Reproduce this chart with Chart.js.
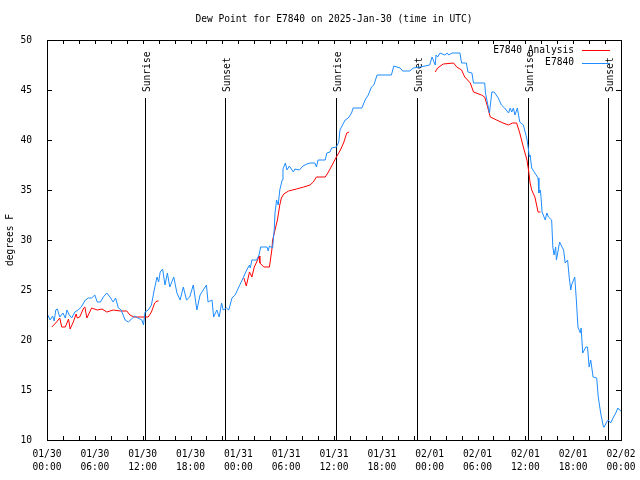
<!DOCTYPE html>
<html>
<head>
<meta charset="utf-8">
<script src="https://cdn.jsdelivr.net/npm/chart.js@4.4.1/dist/chart.umd.min.js"></script>
<style>
  html, body { margin: 0; padding: 0; background: #fff; }
  #wrap { width: 640px; height: 480px; }
</style>
</head>
<body>
<div id="wrap"><canvas id="plot1" width="640" height="480"></canvas></div>
<script>
// hours after 01/30 00:00 UTC
const blueHours = [0.1, 0.4, 0.7, 0.9, 1.1, 1.3, 1.6, 2.0, 2.3, 2.5, 2.8, 3.1, 3.5, 3.9, 4.3, 4.8, 5.2, 5.6, 6.0, 6.3,
  6.7, 7.06, 7.5, 7.9, 8.3, 8.6, 8.95, 9.3, 9.8, 10.2, 10.6, 11.0, 11.4, 11.9, 12.1, 12.3, 12.7, 13.1, 13.4, 13.8,
  14.0, 14.2, 14.5, 14.8, 15.1, 15.4, 15.9, 16.3, 16.7, 17.1, 17.5, 17.9, 18.35, 18.8, 19.2, 19.6, 20.0, 20.2, 20.7, 20.9,
  21.3, 21.6, 21.9, 22.1, 22.5, 22.8, 23.2, 23.6, 24.0, 24.6, 25.05, 25.4, 25.5, 25.7, 26.3, 26.6, 26.8, 27.6, 27.75, 27.9,
  28.3, 28.5, 28.6, 28.8, 29.0, 29.2, 29.5, 29.6, 29.9, 30.1, 30.4, 30.9, 31.1, 31.65, 32.1, 32.6, 33.0, 33.6, 33.8, 34.0,
  34.9, 35.1, 35.5, 35.7, 36.3, 36.6, 36.75, 37.4, 37.8, 38.2, 38.4, 39.5, 39.9, 40.3, 40.7, 41.0, 41.4, 43.2, 43.5, 44.3,
  44.6, 45.5, 45.95, 46.8, 48.0, 48.3, 48.7, 48.8, 49.0, 49.3, 49.9, 50.2, 50.4, 50.8, 51.8, 52.0, 52.6, 52.8, 53.3, 53.5,
  54.9, 55.0, 55.3, 55.5, 55.8, 56.1, 56.6, 57.0, 57.4, 57.9, 58.1, 58.3, 58.5, 58.7, 59.0, 59.3, 59.75, 60.2, 60.4, 60.5,
  60.6, 60.8, 61.2, 61.6, 61.7, 61.9, 62.1, 62.5, 62.7, 62.9, 63.3, 63.45, 63.6, 63.8, 63.9, 64.3, 64.6, 64.8, 65.0, 65.3,
  65.5, 65.7, 65.8, 66.2, 66.4, 66.6, 66.9, 67.0, 67.2, 67.6, 67.8, 68.0, 68.2, 68.5, 68.95, 69.15, 69.45, 69.8, 69.9, 70.2,
  70.4, 70.7, 71.0, 71.35, 71.6, 71.8, 72.0];
const blueDew = [22.5, 22.0, 22.4, 21.9, 23.0, 23.1, 22.3, 22.7, 22.2, 23.0, 22.5, 22.2, 22.8, 23.0, 23.3, 24.0, 24.2, 24.2, 24.5, 23.8,
  23.8, 24.3, 24.7, 24.3, 23.8, 24.2, 23.2, 23.0, 22.0, 21.8, 22.1, 22.4, 22.2, 22.0, 21.5, 22.8, 23.0, 23.5, 24.8, 26.3,
  25.8, 26.8, 27.1, 25.5, 26.7, 25.3, 26.3, 24.7, 24.0, 25.3, 24.0, 24.3, 25.5, 23.0, 24.5, 25.0, 25.5, 23.8, 24.0, 22.3,
  23.0, 22.3, 23.7, 23.0, 23.2, 23.0, 24.2, 24.5, 25.2, 26.2, 27.0, 27.5, 27.2, 28.0, 28.0, 28.5, 29.3, 29.3, 28.9, 29.4,
  29.2, 31.0, 32.7, 34.0, 33.5, 35.0, 36.0, 37.1, 37.7, 37.0, 37.4, 36.8, 37.1, 37.0, 37.4, 37.6, 37.7, 37.7, 37.3, 38.0,
  38.0, 38.7, 38.8, 39.2, 39.3, 39.8, 41.0, 42.0, 42.2, 42.7, 43.2, 43.2, 44.0, 44.5, 45.3, 45.5, 46.5, 46.5, 47.4, 47.2,
  46.9, 46.9, 47.2, 47.3, 47.5, 48.3, 47.5, 48.5, 48.3, 48.7, 48.5, 48.7, 48.5, 48.7, 48.7, 47.7, 47.7, 46.8, 46.7, 45.7,
  45.7, 44.7, 43.5, 42.7, 44.8, 44.8, 44.2, 43.5, 43.2, 42.7, 43.2, 42.8, 43.2, 42.5, 43.2, 41.8, 41.5, 40.1, 39.0, 38.3,
  38.5, 37.2, 36.7, 36.2, 34.7, 35.0, 32.8, 32.0, 32.7, 32.3, 32.0, 29.3, 28.5, 29.3, 28.0, 29.8, 29.3, 29.0, 27.7, 28.0,
  26.3, 25.0, 25.5, 26.3, 24.0, 21.3, 20.7, 21.2, 18.7, 19.3, 19.3, 17.3, 18.0, 16.3, 16.2, 14.3, 12.7, 11.3, 11.3, 11.8,
  12.0, 11.7, 12.2, 12.7, 13.2, 13.0, 12.9];

const redHours = [0.6, 1.2, 1.6, 1.85, 2.3, 2.7, 2.9, 3.3, 3.65, 3.8, 4.1, 4.6, 4.75, 5.0, 5.6, 6.3, 6.9, 7.5, 8.3, 9.2,
  10.0, 10.4, 10.9, 12.3, 12.7, 13.1, 13.5, 13.8, 14.0, 19.0,
  24.7, 25.0, 25.4, 25.7, 26.0, 26.3, 26.6, 26.7, 27.2, 27.9, 28.2, 28.3, 28.6, 28.9, 29.2, 29.4, 29.7, 30.3, 31.3, 32.2,
  33.0, 33.4, 33.8, 34.9, 35.3, 35.9, 36.3, 36.8, 37.2, 37.6, 37.9, 43.0,
  48.7, 49.0, 49.7, 51.0, 51.4, 52.0, 52.4, 53.1, 53.5, 54.5, 54.9, 55.2, 55.6, 56.4, 57.2, 57.9, 58.4, 58.9, 59.3, 59.75,
  60.2, 60.4, 60.6, 60.8, 61.2, 61.6, 61.9];
const redDew = [21.3, 21.8, 22.2, 21.3, 21.3, 22.1, 21.1, 21.8, 22.6, 22.2, 22.3, 23.2, 23.3, 22.2, 23.2, 23.0, 23.1, 22.8, 23.0, 22.9,
  22.9, 22.5, 22.3, 22.3, 22.3, 22.8, 23.7, 23.9, 23.9, null,
  26.2, 25.4, 26.8, 26.3, 27.3, 27.8, 28.4, 27.7, 27.3, 27.3, 29.0, 30.0, 31.0, 32.0, 33.5, 34.2, 34.6, 34.9, 35.1, 35.3,
  35.5, 35.8, 36.3, 36.3, 36.8, 37.7, 38.3, 39.0, 39.7, 40.7, 40.8, null,
  46.8, 47.2, 47.6, 47.7, 47.3, 47.0, 46.3, 45.7, 44.8, 44.5, 44.3, 43.5, 42.3, 42.0, 41.7, 41.5, 41.7, 41.7, 40.7, 39.3,
  38.0, 37.0, 35.7, 35.0, 34.3, 32.8, 32.8];

const sunHours = [12.3, 22.35, 36.25, 46.45, 60.35, 70.4];
const sunNames = ['Sunrise', 'Sunset', 'Sunrise', 'Sunset', 'Sunrise', 'Sunset'];

const tickDays = ['01/30', '01/30', '01/30', '01/30', '01/31', '01/31', '01/31', '01/31', '02/01', '02/01', '02/01', '02/01', '02/02'];
const tickTimes = ['00:00', '06:00', '12:00', '18:00', '00:00', '06:00', '12:00', '18:00', '00:00', '06:00', '12:00', '18:00', '00:00'];

const seriesNames = ['E7840', 'E7840 Analysis'];
const seriesColors = ['#1e8cff', '#ff0000'];

const FONT = '9.6px "DejaVu Sans Mono"';

let puntos = (hrs, vals) => hrs.map((h, i) => ({ x: h, y: vals[i] }));

const gnuplotLook = {
    id: 'gnuplotLook',
    beforeDatasetsDraw(chart) {
        const c = chart.ctx;
        const x = chart.scales.x, y = chart.scales.y;
        c.save();
        c.strokeStyle = '#000';
        c.lineWidth = 1;
        c.fillStyle = '#000';
        c.font = FONT;
        for (let i = 0; i < sunHours.length; i++) {
            let px = Math.round(x.getPixelForValue(sunHours[i])) + 0.5;
            c.beginPath();
            c.moveTo(px, y.getPixelForValue(10));
            c.lineTo(px, y.getPixelForValue(44.2));
            c.stroke();
            // label, rotated like gnuplot
            c.save();
            c.translate(px + 2, y.getPixelForValue(44.8));
            c.rotate(-Math.PI / 2);
            c.textAlign = 'left';
            c.textBaseline = 'middle';
            c.fillText(sunNames[i], 0, 0);
            c.restore();
        }
        c.restore();
    },
    afterDraw(chart) {
        const c = chart.ctx;
        const a = chart.chartArea;
        const x = chart.scales.x, y = chart.scales.y;
        c.save();
        c.strokeStyle = '#000';
        c.lineWidth = 1;
        c.strokeRect(a.left + 0.5, a.top + 0.5, a.right - a.left, a.bottom - a.top);
        c.beginPath();
        /* minor ticks every 2 h, top and bottom */
        for (let h = 2; h < 72; h += 2) {
            let px = Math.round(x.getPixelForValue(h)) + 0.5;
            c.moveTo(px, a.bottom);
            c.lineTo(px, a.bottom - 4);
            c.moveTo(px, a.top);
            c.lineTo(px, a.top + 4);
        }
        for (let v = 15; v < 50; v += 5) {
            let py = Math.round(y.getPixelForValue(v)) + 0.5;
            c.moveTo(a.left, py);
            c.lineTo(a.left + 5, py);
            c.moveTo(a.right, py);
            c.lineTo(a.right - 5, py);
        }
        c.stroke();

        c.fillStyle = '#000';
        c.font = FONT;
        c.textBaseline = 'middle';
        c.textAlign = 'center';
        c.fillText('Dew Point for E7840 on 2025-Jan-30 (time in UTC)', (a.left + a.right) / 2, 19);

        // legend: Analysis first, then E7840
        const filas = [1, 0];
        filas.forEach((d, i) => {
            let ly = 50 + i * 12.5;
            c.textAlign = 'right';
            c.fillStyle = '#000';
            c.fillText(seriesNames[d], 574, ly);
            c.strokeStyle = seriesColors[d];
            c.beginPath();
            c.moveTo(582, Math.round(ly) + 0.5);
            c.lineTo(610, Math.round(ly) + 0.5);
            c.stroke();
        });
        c.restore();
    }
};

let ctx = document.getElementById('plot1').getContext('2d');

let grafica1 = new Chart(ctx, {
    type: 'line',
    data: {
        datasets: [{
            label: seriesNames[0],
            data: puntos(blueHours, blueDew),
            borderColor: seriesColors[0],
            borderWidth: 1,
            pointRadius: 0,
            tension: 0,
            spanGaps: false
        }, {
            label: seriesNames[1],
            data: puntos(redHours, redDew),
            borderColor: seriesColors[1],
            borderWidth: 1,
            pointRadius: 0,
            tension: 0,
            spanGaps: false
        }]
    },
    options: {
        responsive: false,
        animation: false,
        layout: { padding: { top: 40, right: 19, left: 0, bottom: 0 } },
        plugins: {
            legend: { display: false },
            title: { display: false },
            tooltip: { enabled: false }
        },
        scales: {
            x: {
                type: 'linear',
                min: 0,
                max: 72,
                grid: { display: false },
                border: { display: false },
                ticks: {
                    stepSize: 6,
                    autoSkip: false,
                    maxRotation: 0,
                    padding: 0,
                    color: '#000',
                    font: { family: 'DejaVu Sans Mono', size: 9.6, lineHeight: 1.38 },
                    callback: (v) => {
                        let i = Math.round(v / 6);
                        return [tickDays[i], tickTimes[i]];
                    }
                },
                afterFit: (s) => { s.height = 40; }
            },
            y: {
                min: 10,
                max: 50,
                grid: { display: false },
                border: { display: false },
                ticks: {
                    stepSize: 5,
                    padding: 7,
                    color: '#000',
                    font: { family: 'DejaVu Sans Mono', size: 9.6 }
                },
                title: {
                    display: true,
                    text: 'degrees F',
                    color: '#000',
                    padding: { top: 5, bottom: 0 },
                    font: { family: 'DejaVu Sans Mono', size: 9.6 }
                },
                afterFit: (s) => { s.width = 47; }
            }
        }
    },
    plugins: [gnuplotLook]
});
</script>
</body>
</html>
